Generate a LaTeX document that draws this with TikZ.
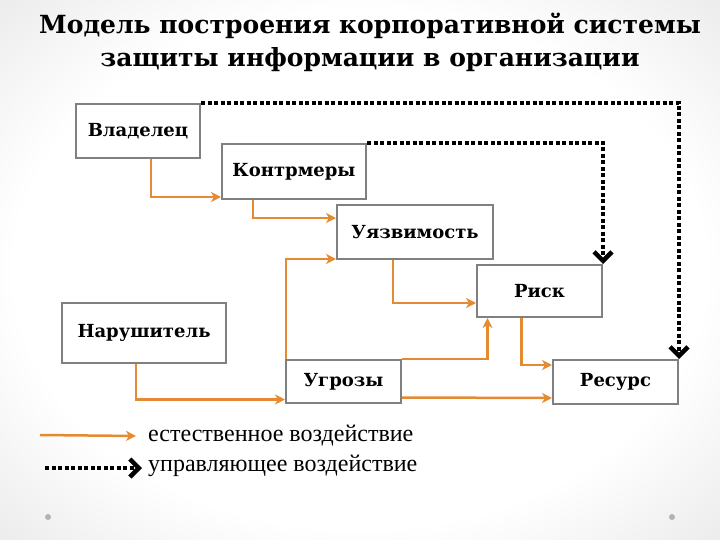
\documentclass[tikz,border=0pt]{standalone}
\usepackage{fontspec}
\setmainfont{Liberation Serif}
\newfontfamily\headfont{DejaVu Serif}
\usetikzlibrary{arrows.meta}
\definecolor{natural}{RGB}{228,138,50}
\definecolor{frame}{RGB}{128,128,128}
\definecolor{edge}{RGB}{208,208,208}
\pgfdeclareradialshading{slide}{\pgfpoint{0bp}{0bp}}{color(0bp)=(white); color(24bp)=(white); color(52bp)=(edge); color(75bp)=(edge)}

\begin{document}
\begin{tikzpicture}
        [x=1pt,y=-1pt,
         box/.style={draw=frame,fill=white,line width=2pt,inner sep=0,font=\headfont\bfseries\fontsize{18}{21}\selectfont},
         nat/.style={draw=natural,line width=2.5pt,-{Stealth[length=10pt,width=10pt,inset=3pt]}},
         ctrl/.style={line width=4pt,dash pattern=on 4pt off 2.5pt,-{Straight Barb[length=9pt,width=18pt,line width=4.5pt]}}]

        \clip (0,0) rectangle (720,540);
        \shade[shading=slide] (0,0) rectangle (720,540);
        \fill[gray!60] (48,517) circle (3);
        \fill[gray!60] (672,517) circle (3);

        \node[font=\headfont\bfseries\fontsize{25}{33}\selectfont,align=center] (title) at (370,42) {Модель построения корпоративной системы\\защиты информации в организации};

        \node[box,minimum width=124pt,minimum height=54pt] (b1) at (138,131) {Владелец};
        \node[box,minimum width=144pt,minimum height=55pt] (b2) at (294,171.5) {Контрмеры};
        \node[box,minimum width=156pt,minimum height=54pt] (b3) at (415,232) {Уязвимость};
        \node[box,minimum width=125pt,minimum height=52pt] (b4) at (539.5,291) {Риск};
        \node[box,minimum width=164pt,minimum height=60pt] (b5) at (144,333) {Нарушитель};
        \node[box,minimum width=115pt,minimum height=43pt] (b6) at (343.5,381.5) {Угрозы};
        \node[box,minimum width=125pt,minimum height=44pt] (b7) at (615.5,382) {Ресурс};

        \draw[nat] ([xshift=13pt]b1.south) |- ([yshift=3pt]b2.south west);
        \draw[nat] ([xshift=-41pt]b2.south) |- ([yshift=14pt]b3.west);
        \draw[nat] ([xshift=1pt]b6.north west) |- ([yshift=1pt]b3.south west);
        \draw[nat] ([xshift=-22pt]b3.south) |- ([yshift=-12pt]b4.west);
        \draw[nat] (b6.north east) -| ([xshift=-52pt]b4.south);
        \draw[nat] ([xshift=-18pt]b4.south) |- ([yshift=-6pt]b7.north west);
        \draw[nat] ([yshift=-16pt]b6.east) -- ([yshift=-16pt]b7.west);
        \draw[nat] ([xshift=-8pt]b5.south) |- ([yshift=-18pt]b6.west);

        \draw[ctrl] (b1.north east) -| (b7.north east);
        \draw[ctrl] (b2.north east) -| (b4.north east);

        \node[anchor=west,font=\fontsize{24}{28}\selectfont,inner sep=0] (t1) at (148,436) {естественное воздействие};
        \node[anchor=west,font=\fontsize{24}{28}\selectfont,inner sep=0] (t2) at (148,466) {управляющее воздействие};
        \coordinate (l1) at (40,435);
        \coordinate (l2) at (45,468);
        \draw[nat] (l1) -- ([xshift=-12pt]t1.west);
        \draw[ctrl] (l2) -- ([xshift=-6pt,yshift=-2pt]t2.west);

      \end{tikzpicture}
\end{document}
